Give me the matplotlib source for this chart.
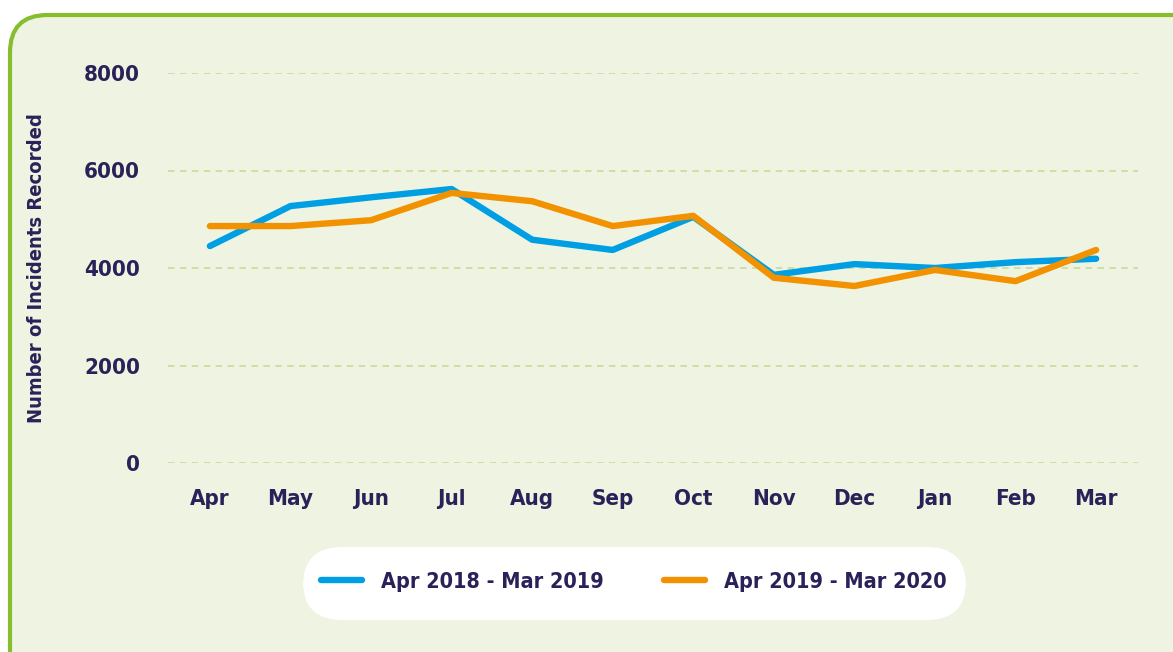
import matplotlib.pyplot as plt
from matplotlib.patches import FancyBboxPatch

months = ['Apr', 'May', 'Jun', 'Jul', 'Aug', 'Sep', 'Oct', 'Nov', 'Dec', 'Jan', 'Feb', 'Mar']
y2018 = [4450, 5270, 5450, 5620, 4580, 4370, 5050, 3860, 4080, 4000, 4120, 4190]
y2019 = [4860, 4860, 4980, 5540, 5370, 4860, 5070, 3800, 3630, 3960, 3730, 4370]
labels = ['Apr 2018 - Mar 2019', 'Apr 2019 - Mar 2020']
yticks = [0, 2000, 4000, 6000, 8000]

navy = '#2B2159'
plt.rcParams['font.family'] = ['Liberation Sans Narrow', 'DejaVu Sans']
plt.rcParams['font.stretch'] = 'condensed'
plt.rcParams['font.weight'] = 'bold'

fig = plt.figure(figsize=(11.73, 6.52), dpi=100)
W, H = 1173, 652

# rounded panel with green border
panel = FancyBboxPatch((10 / W, -0.2), 1.2, 1 - 15 / H + 0.2,
                       boxstyle='round,pad=0,rounding_size=0.032',
                       transform=fig.transFigure, facecolor='#EFF4E2',
                       edgecolor='#86BE2E', linewidth=3, zorder=-2,
                       mutation_aspect=W / H)
fig.patches.append(panel)

# legend pill
pill = FancyBboxPatch((303 / W, 1 - 620 / H), (966 - 303) / W, 73 / H,
                      boxstyle='round,pad=0,rounding_size=0.033',
                      transform=fig.transFigure, facecolor='white',
                      edgecolor='none', zorder=-1, mutation_aspect=W / H)
fig.patches.append(pill)

ax = fig.add_axes([168 / W, 1 - 463 / H, (1138 - 168) / W, (463 - 73) / H])
ax.set_facecolor('none')
x = range(len(months))
ax.plot(x, y2018, color='#009FE3', lw=4.6, label=labels[0], solid_capstyle='round', zorder=3)
ax.plot(x, y2019, color='#F39200', lw=4.6, label=labels[1], solid_capstyle='round', zorder=4)

ax.set_xlim(-0.52, 11.52)
ax.set_ylim(0, 8000)
ax.set_yticks(yticks)
ax.set_xticks(list(x))
ax.set_xticklabels(months)
ax.grid(axis='y', color='#CCDD9E', linestyle=(0, (3.6, 3)), linewidth=1.3)
ax.set_axisbelow(True)
for s in ax.spines.values():
    s.set_visible(False)
ax.tick_params(length=0, labelsize=16, labelcolor=navy)
ax.tick_params(axis='y', pad=20)
ax.tick_params(axis='x', pad=19)
for t in ax.get_xticklabels() + ax.get_yticklabels():
    t.set_fontweight('bold')

fig.text(37 / W, 1 - 268 / H, 'Number of Incidents Recorded', rotation=90,
         ha='center', va='center', fontsize=14.5, fontweight='bold', color=navy)

leg = fig.legend(loc='center', bbox_to_anchor=(634 / W, 1 - 582 / H), ncol=2,
                 frameon=False, fontsize=15.5, handlelength=1.9, columnspacing=2.8,
                 handletextpad=0.9)
for t in leg.get_texts():
    t.set_color(navy)
    t.set_fontweight('bold')

fig.savefig('out.png', dpi=100)
